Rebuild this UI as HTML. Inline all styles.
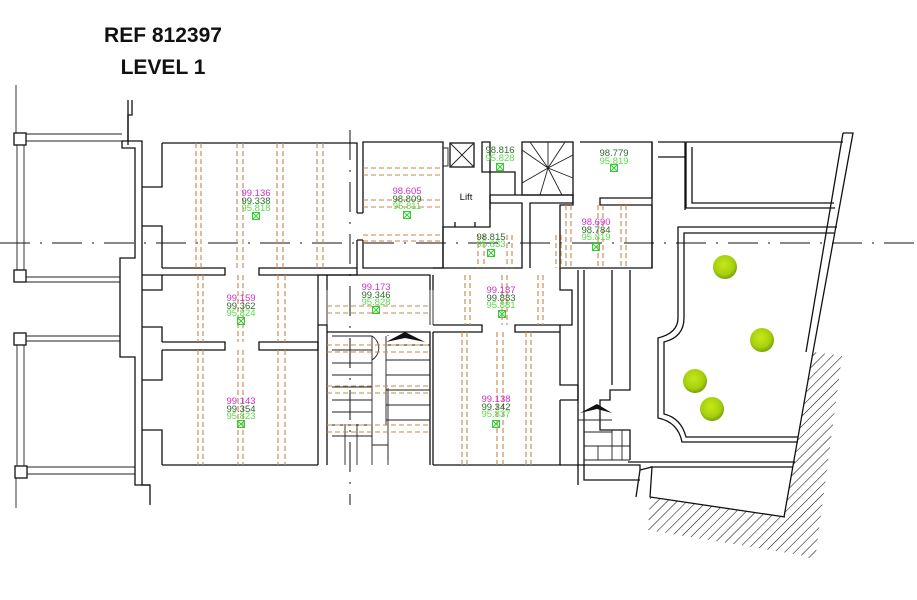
<!DOCTYPE html>
<html><head><meta charset="utf-8"><style>
html,body{margin:0;padding:0;background:#fff;width:917px;height:600px;overflow:hidden}
svg{display:block}
.w{fill:none;stroke:#111;stroke-width:1.3}
.t{fill:none;stroke:#222;stroke-width:0.9}
.b{stroke:#c8864a;stroke-width:1.1;stroke-dasharray:5,3;fill:none}
.m{fill:#cc33cc}.g{fill:#2f6b2f}.l{fill:#5fd94a}
text{font-family:"Liberation Sans",sans-serif}
.lab{font-size:9.5px;text-anchor:middle}
</style></head><body>
<svg width="917" height="600" viewBox="0 0 917 600" xmlns="http://www.w3.org/2000/svg">
<defs>
<pattern id="h" width="7" height="7" patternUnits="userSpaceOnUse" patternTransform="rotate(45)"><line x1="0" y1="0" x2="0" y2="7" stroke="#111" stroke-width="1.1"/></pattern>
<g id="mk"><rect x="-3.5" y="-3.5" width="7" height="7" fill="none" stroke="#3c3" stroke-width="1"/><path d="M-3.5,-3.5L3.5,3.5M3.5,-3.5L-3.5,3.5" stroke="#3c3" stroke-width="1"/></g>
<radialGradient id="tr" cx="45%" cy="40%" r="60%"><stop offset="0" stop-color="#c6e81a"/><stop offset="0.7" stop-color="#a6d00c"/><stop offset="1" stop-color="#7aa008"/></radialGradient>
</defs>

<text x="163" y="42" font-size="21" font-weight="bold" text-anchor="middle" fill="#111">REF 812397</text>
<text x="163" y="74" font-size="21" font-weight="bold" text-anchor="middle" fill="#111">LEVEL 1</text>

<line x1="0" y1="243" x2="917" y2="243" stroke="#111" stroke-width="1" stroke-dasharray="30,10,2,10"/>
<line x1="350" y1="130" x2="350" y2="505" stroke="#111" stroke-width="1" stroke-dasharray="30,10,2,10"/>

<line class="t" x1="16" y1="85" x2="16" y2="133"/>
<line class="t" x1="16" y1="478" x2="16" y2="508"/>
<rect class="w" x="14" y="133" width="12" height="12"/>
<rect class="w" x="14" y="270" width="12" height="12"/>
<rect class="w" x="14" y="333" width="12" height="12"/>
<rect class="w" x="15" y="466" width="12" height="12"/>
<path class="t" d="M17,145V270M24,145V270M17,345V466M24,345V466"/>
<path class="t" d="M26,134H122M26,141H122M26,277H120M26,282H120M26,336H120M26,341H120M27,467H135M27,474H135"/>
<path class="w" d="M132,100V115H128V141H122V148H135V258H120V357H135V485H150V505"/>
<path class="w" d="M128,100V145"/>
<path class="w" d="M128,141H142V485H150"/>
<path class="w" d="M142,187H162V143M142,226H162V268M142,275H162M162,275V290H142M142,327H162V342M142,380H162V350M142,430H162V465"/>

<path class="w" d="M162,143H357V213M357,240V268M162,465H318"/>
<path class="w" d="M162,268H225V275H162M259,268H357V275H259Z"/>
<path class="w" d="M162,342H225V350H162M259,342H318V350H259Z"/>
<path class="w" d="M318,275V465"/>
<path class="b" d="M196,143V268M201,143V268M237,143V268M243,143V268M277,143V268M283,143V268M317,143V268M323,143V268"/>
<path class="b" d="M198,275V342M203,275V342M238,275V342M243,275V342M278,275V342M285,275V342"/>
<path class="b" d="M198,350V465M203,350V465M238,350V465M243,350V465M278,350V465M285,350V465"/>

<path class="w" d="M363,213V142H443V268H363V240M357,240H363M357,213H363"/>
<path class="b" d="M363,168H442M363,175H442M363,200H442M363,207H442M363,235H442M363,241H442"/>
<path class="t" d="M443,148H448V166H443"/>
<rect class="w" x="450" y="143" width="24" height="24"/>
<path class="t" d="M450,143L474,167M474,143L450,167"/>
<path class="w" d="M443,268V227H490V142H482V172H515V195H490M490,203H522V268H433"/>
<path class="w" d="M490,195V210M455,227V222M475,227V222"/>
<text x="466" y="200" font-size="9.5" text-anchor="middle" fill="#111">Lift</text>
<rect class="w" x="522" y="142" width="51" height="53"/>
<path class="t" d="M548,168L522,150M548,168L530,142M548,168L548,142M548,168L565,142M548,168L573,155M548,168L573,178M548,168L562,195M548,168L540,195M548,168L522,183"/>
<path class="w" d="M515,195H573V203H530V268"/>
<path class="w" d="M580,142H652V198H600V205H652V268H560V205H573V195"/>
<path class="w" d="M658,142H685V210M652,142V268M658,157H685"/>
<path class="b" d="M566,205V268M571,205V268M598,205V268M603,205V268M621,205V268M626,205V268"/>

<path class="w" d="M318,275H430V290M327,290V275M433,290V275"/>
<path class="t" d="M318,290V325M327,290V325M430,290V325M433,290V325" stroke="#bbb"/>
<path class="b" d="M327,306H430M327,313H430"/>
<path class="w" d="M318,325H327V465M327,332H430V465M433,332V465"/>
<path class="t" d="M332,336H372M332,350H372M332,363H372M332,375H372M332,387H372M332,400H372M332,412H372M332,425H372M332,436H372M345,424V465M357,424V465M372,424V465M388,424V465"/>
<path class="t" d="M372,336V445H388V460M388,388V425M388,335V336M386,336V425M386,345H430M386,360H430M386,375H430M386,390H430M386,405H430M386,420H430"/>
<path class="t" d="M372,336A14,14 0 0 1 372,360"/>
<path d="M386,342L405,332L425,342L405,338Z" fill="#111"/>
<path class="b" d="M327,345H430M327,352H430M327,386H430M327,393H430M327,425H430M327,432H430"/>

<path class="w" d="M433,325H482V332H433M515,325H560V332H515Z"/>
<path class="w" d="M560,268V290H572V325H560M560,290V268"/>
<path class="w" d="M433,465H560V400M560,332V385H578"/>
<path class="b" d="M465,275V325M470,275V325M502,275V325M507,275V325M538,275V325M543,275V325"/>
<path class="b" d="M462,332V465M467,332V465M497,332V465M503,332V465M526,332V465M531,332V465"/>
<path class="b" d="M478,235V268M484,235V268M507,235V268M512,235V268M556,235V268M561,235V268"/>
<path class="w" d="M578,270V485M584,270V480H640"/>
<path class="w" d="M630,270V390H610V400H600V430H630V460M612,270V385"/>
<path class="t" d="M578,420H612M584,432H612M598,446H630M598,446V460M612,430V460M622,430V460M584,446H598M584,460H630"/>
<path d="M580,413L597,404L612,413L597,409Z" fill="#111"/>
<path class="w" d="M560,400H578V385"/>
<path class="w" d="M560,465H640V470"/>

<path class="w" d="M686,142V208H835M686,142H843M692,147V203H834"/>
<path class="w" d="M843,133H853L813,352"/>
<path class="w" d="M843,133L806,352"/>
<path class="w" d="M837,227H678V318Q678,333 658,338V418Q678,422 682,442H798M834,233H684V318Q684,337 664,342V414Q681,418 686,437H798"/>
<path class="w" d="M628,462H795M650,467H793M640,470L652,467L650,497L785,517M640,470L636,497"/>
<path fill="url(#h)" stroke="none" d="M813,352L842,356L815,560L784,516Z"/>
<path fill="url(#h)" stroke="none" d="M650,497L785,517L815,560L800,555L648,530Z"/>
<path class="w" d="M813,352L784,517"/>
<circle cx="725" cy="267" r="12" fill="url(#tr)"/>
<circle cx="762" cy="340" r="12" fill="url(#tr)"/>
<circle cx="695" cy="381" r="12" fill="url(#tr)"/>
<circle cx="712" cy="409" r="12" fill="url(#tr)"/>

<g class="lab">
<text x="256" y="196" class="m">99.136</text><text x="256" y="204" class="g">99.338</text><text x="256" y="211" class="l">95.818</text>
<text x="241" y="301" class="m">99.159</text><text x="241" y="309" class="g">99.362</text><text x="241" y="316" class="l">95.824</text>
<text x="241" y="404" class="m">99.143</text><text x="241" y="412" class="g">99.354</text><text x="241" y="419" class="l">95.823</text>
<text x="407" y="194" class="m">98.605</text><text x="407" y="202" class="g">98.809</text><text x="407" y="209" class="l">95.811</text>
<text x="376" y="290" class="m">99.173</text><text x="376" y="298" class="g">99.346</text><text x="376" y="305" class="l">95.828</text>
<text x="500" y="153" class="g">98.816</text><text x="500" y="161" class="l">95.828</text>
<text x="491" y="240" class="g">98.815</text><text x="491" y="247" class="l">95.833</text>
<text x="501" y="293" class="m">99.187</text><text x="501" y="301" class="g">99.883</text><text x="501" y="308" class="l">95.881</text>
<text x="496" y="402" class="m">99.138</text><text x="496" y="410" class="g">99.342</text><text x="496" y="417" class="l">95.837</text>
<text x="614" y="156" class="g">98.779</text><text x="614" y="164" class="l">95.819</text>
<text x="596" y="225" class="m">98.690</text><text x="596" y="233" class="g">98.784</text><text x="596" y="240" class="l">95.819</text>
</g>
<use href="#mk" x="256" y="216"/><use href="#mk" x="241" y="321"/><use href="#mk" x="241" y="424"/>
<use href="#mk" x="407" y="215"/><use href="#mk" x="376" y="310"/><use href="#mk" x="500" y="167"/>
<use href="#mk" x="491" y="253"/><use href="#mk" x="502" y="314"/><use href="#mk" x="496" y="424"/>
<use href="#mk" x="614" y="168"/><use href="#mk" x="596" y="247"/>
</svg>
</body></html>
